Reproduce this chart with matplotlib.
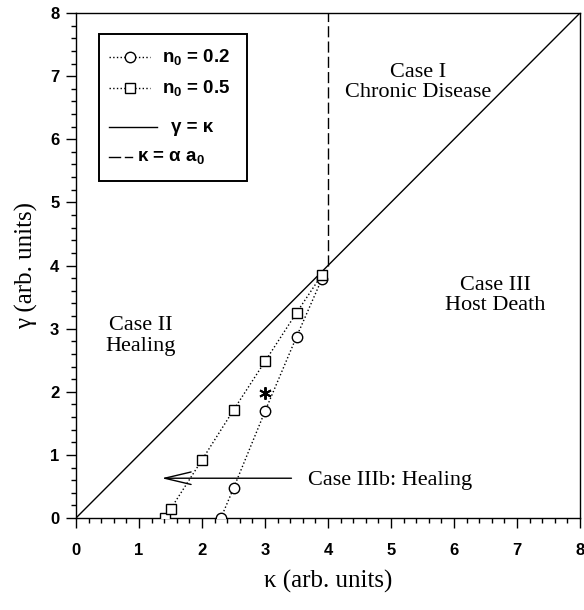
import matplotlib
matplotlib.use("Agg")
import matplotlib.pyplot as plt
from matplotlib.ticker import MultipleLocator
from matplotlib.patches import Rectangle

plt.rcParams['mathtext.fontset'] = 'custom'
plt.rcParams['mathtext.rm'] = 'Liberation Sans:bold'
plt.rcParams['mathtext.bf'] = 'Liberation Sans:bold'
plt.rcParams['mathtext.it'] = 'Liberation Sans:bold'

# boundary curves for n0 = 0.2 and n0 = 0.5
kappa_n02 = [2.3, 2.5, 3.0, 3.5, 3.9]
gamma_n02 = [0.0, 0.47, 1.69, 2.87, 3.78]
kappa_n05 = [1.42, 1.5, 2.0, 2.5, 3.0, 3.5, 3.9]
gamma_n05 = [0.0, 0.14, 0.92, 1.71, 2.48, 3.25, 3.85]

diag = [0, 8]             # gamma = kappa
kappa_alpha_a0 = 4.0      # kappa = alpha a0
star_point = (3.0, 1.98)
arrow_from = (3.42, 0.63)
arrow_to = (1.36, 0.63)

legend_labels = [r'$\mathrm{n_0}$ = 0.2', r'$\mathrm{n_0}$ = 0.5', 'γ = κ', 'κ = α a$_0$']

serif = 'Liberation Serif'
sans = 'Liberation Sans'

fig = plt.figure(figsize=(5.84, 6.10), dpi=100)
ax = fig.add_axes([76/584, 1 - 518/610, 504/584, 505/610])

mk = dict(ms=7.5, mfc='white', mec='black', mew=1.0)
ax.plot(kappa_n02, gamma_n02, linestyle=':', color='black', lw=1.0,
        marker='o', zorder=3, **mk)
ax.plot(kappa_n05, gamma_n05, linestyle=':', color='black', lw=1.0,
        marker='s', zorder=3, **mk)
ax.plot(diag, diag, '-', color='black', lw=1.0)
ax.plot([kappa_alpha_a0, kappa_alpha_a0], [4.0, 8.0], color='black', lw=1.0,
        dashes=(8, 3))

ax.plot(*star_point, marker=(6, 2, 0), ms=9, color='black', mew=1.4, zorder=4)

ax.annotate('', xy=arrow_to, xytext=arrow_from,
            arrowprops=dict(arrowstyle='->,head_length=1.9,head_width=0.45',
                            color='black', lw=1.0, mutation_scale=10,
                            shrinkA=0, shrinkB=0))
ax.text(3.68, 0.60, 'Case IIIb: Healing', family=serif, fontsize=16,
        ha='left', va='center')

ax.text(5.43, 6.9, 'Case I\nChronic Disease', family=serif, fontsize=16,
        ha='center', va='center', linespacing=1.1)
ax.text(6.65, 3.52, 'Case III\nHost Death', family=serif, fontsize=16,
        ha='center', va='center', linespacing=1.1)
ax.text(1.02, 2.88, 'Case II\nHealing', family=serif, fontsize=16,
        ha='center', va='center', linespacing=1.1)

ax.set_xlim(0, 8)
ax.set_ylim(0, 8)
ax.xaxis.set_major_locator(MultipleLocator(1))
ax.yaxis.set_major_locator(MultipleLocator(1))
ax.xaxis.set_minor_locator(MultipleLocator(0.2))
ax.yaxis.set_minor_locator(MultipleLocator(0.2))
ax.tick_params(which='major', direction='out', length=7, width=1.0)
ax.tick_params(which='minor', direction='out', length=3.8, width=1.0)
ax.tick_params(axis='x', which='major', pad=11)
ax.tick_params(axis='y', which='major', pad=5)
for lbl in ax.get_xticklabels() + ax.get_yticklabels():
    lbl.set_family(sans)
    lbl.set_fontweight('bold')
    lbl.set_fontsize(12)
for sp in ax.spines.values():
    sp.set_linewidth(1.0)

ax.set_xlabel('κ (arb. units)', family=serif, fontsize=18)
ax.set_ylabel('γ (arb. units)', family=serif, fontsize=18)
ax.xaxis.label.set_va('center')
ax.yaxis.label.set_va('center')
ax.xaxis.set_label_coords(0.5, (518 - 581) / 505)
ax.yaxis.set_label_coords((26 - 76) / 504, 0.5)

# legend box drawn in axes coordinates
def fx(px):
    return (px - 76) / 504

def fy(py):
    return (518 - py) / 505

T = ax.transAxes
ax.add_patch(Rectangle((fx(99), fy(181)), fx(247) - fx(99), fy(34) - fy(181),
                       transform=T, fill=True, facecolor='white',
                       edgecolor='black', lw=1.4, zorder=5))
rows = [fy(57), fy(88), fy(127), fy(157)]
kw = dict(transform=T, color='black', lw=1.0, zorder=6, clip_on=False)
for yy, m in zip(rows[:2], ['o', 's']):
    ax.plot([fx(109), fx(150)], [yy, yy], linestyle=':', **kw)
    ax.plot([fx(130)], [yy], marker=m, linestyle='none', transform=T,
            zorder=7, clip_on=False, **mk)
ax.plot([fx(109), fx(157)], [rows[2], rows[2]], linestyle='-', **kw)
ax.plot([fx(109), fx(120)], [rows[3], rows[3]], linestyle='-', **kw)
ax.plot([fx(125), fx(132)], [rows[3], rows[3]], linestyle='-', **kw)

text_x = [fx(162), fx(162), fx(171), fx(137)]
for tx, yy, lab in zip(text_x, rows, legend_labels):
    ax.text(tx, yy, lab, transform=T, family=sans, fontweight='bold',
            fontsize=13.5, ha='left', va='center', zorder=7)

fig.savefig('out.png', dpi=100)
